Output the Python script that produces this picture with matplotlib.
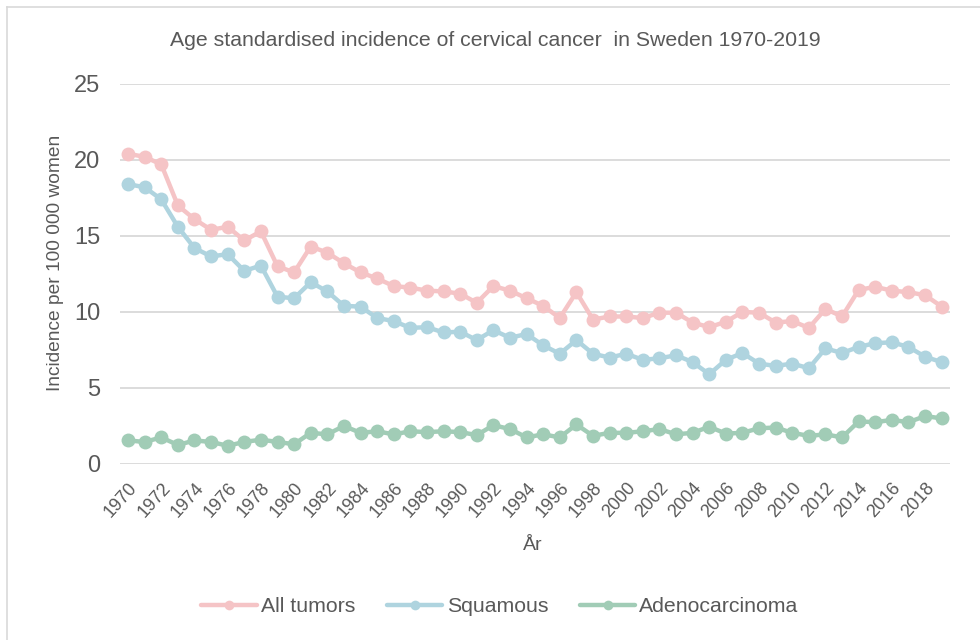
#Cervical cancer incidence chart

#Importing Libraries
import numpy as np
import matplotlib
matplotlib.use("Agg")
import matplotlib.pyplot as plt
from matplotlib.lines import Line2D

plt.rcParams['font.family'] = ['Liberation Sans', 'DejaVu Sans']

#Data
years = list(range(1970, 2020))

all_tumors = [20.4, 20.2, 19.7, 17.0, 16.1, 15.4, 15.6, 14.7, 15.3, 13.0,
              12.6, 14.3, 13.9, 13.2, 12.6, 12.2, 11.7, 11.6, 11.4, 11.35,
              11.2, 10.6, 11.7, 11.4, 10.9, 10.4, 9.6, 11.3, 9.5, 9.7,
              9.7, 9.6, 9.95, 9.95, 9.3, 9.0, 9.35, 10.0, 9.95, 9.3,
              9.4, 8.95, 10.2, 9.7, 11.45, 11.65, 11.4, 11.3, 11.1, 10.35]

squamous = [18.4, 18.2, 17.4, 15.6, 14.2, 13.65, 13.8, 12.7, 13.05, 11.0,
            10.9, 11.95, 11.35, 10.4, 10.35, 9.6, 9.4, 8.95, 9.0, 8.65,
            8.7, 8.15, 8.8, 8.3, 8.55, 7.8, 7.25, 8.15, 7.25, 7.0,
            7.25, 6.85, 6.95, 7.15, 6.7, 5.9, 6.85, 7.3, 6.6, 6.45,
            6.6, 6.3, 7.6, 7.3, 7.7, 7.95, 8.0, 7.7, 7.05, 6.7]

adeno = [1.55, 1.45, 1.75, 1.25, 1.55, 1.45, 1.2, 1.45, 1.6, 1.45,
         1.3, 2.05, 1.95, 2.5, 2.05, 2.15, 1.95, 2.15, 2.1, 2.15,
         2.1, 1.9, 2.55, 2.3, 1.75, 1.95, 1.75, 2.6, 1.85, 2.05,
         2.05, 2.15, 2.3, 1.95, 2.05, 2.45, 2.0, 2.05, 2.35, 2.4,
         2.05, 1.85, 1.95, 1.75, 2.8, 2.75, 2.9, 2.75, 3.15, 3.0]

series = [("All tumors", all_tumors, '#F5C4C6'),
          ("Squamous", squamous, '#AFD4DF'),
          ("Adenocarcinoma", adeno, '#A1CCB6')]

text_col = '#595959'
grid_col = '#D9D9D9'

#Creating the figure
fig = plt.figure(figsize=(9.8, 6.4), dpi=100)
ax = fig.add_axes([0.1222, 0.275, 0.8472, 0.594])

for name, vals, col in series:
    ax.plot(years, vals, color=col, lw=3.2, marker='o', markersize=10,
            markeredgewidth=0, label=name, solid_capstyle='round')

ax.set_xlim(1969.5, 2019.5)
ax.set_ylim(0, 25)
ax.set_yticks(np.arange(0, 26, 5))
ax.set_xticks(years[::2])
ax.set_xticklabels([str(y) for y in years[::2]], rotation=48, ha='right',
                   va='top', rotation_mode='anchor')
ax.tick_params(axis='x', length=0, pad=11, labelsize=13, labelcolor=text_col)
ax.tick_params(axis='y', length=0, pad=14, labelsize=17, labelcolor=text_col)

ax.grid(axis='y', color=grid_col, lw=1.3)
ax.set_axisbelow(True)
for s in ax.spines.values():
    s.set_visible(False)

#Texts
fig.text(495 / 980, 1 - 40 / 640,
         "Age standardised incidence of cervical cancer  in Sweden 1970-2019",
         ha='center', va='center', fontsize=15.3, color=text_col)
fig.text(55 / 980, 1 - 263 / 640, "Incidence per 100 000 women", rotation=90,
         ha='center', va='center', fontsize=13.8, color=text_col)
fig.text(533 / 980, 1 - 545 / 640, "År", ha='center', va='center',
         fontsize=14, color=text_col)

#Legend
leg = fig.legend(loc='center', bbox_to_anchor=(500 / 980, 1 - 607 / 640),
                 ncol=3, frameon=False, fontsize=15.3, handlelength=2.6,
                 handletextpad=0.2, columnspacing=1.5, markerscale=0.7)
for t in leg.get_texts():
    t.set_color(text_col)

#Chart border
fig.add_artist(Line2D([7 / 980, 7 / 980], [0, 1 - 7 / 640], color=grid_col,
                      lw=1.2, transform=fig.transFigure))
fig.add_artist(Line2D([7 / 980, 1], [1 - 7 / 640, 1 - 7 / 640], color=grid_col,
                      lw=1.2, transform=fig.transFigure))

fig.savefig('out.png', dpi=100)
